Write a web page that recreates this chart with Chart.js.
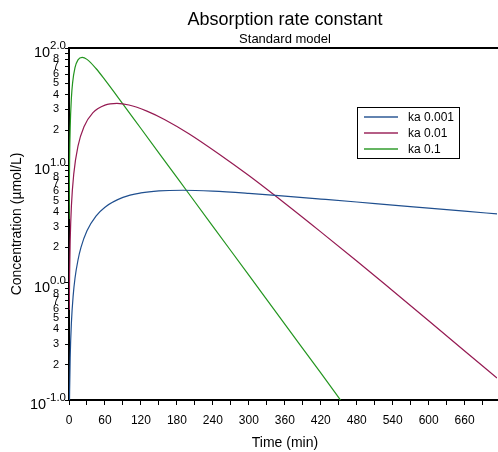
<!DOCTYPE html>
<html>
<head>
<meta charset="utf-8">
<script src="https://cdn.jsdelivr.net/npm/chart.js@4.4.1/dist/chart.umd.min.js"></script>
<style>
    html, body { margin: 0; padding: 0; background: #fff; }
    #wrap { width: 498px; height: 452px; }
</style>
</head>
<body>
<div id="wrap"><canvas id="absorptionChart"></canvas></div>
<script>
// --- Dữ liệu (thời gian: phút, nồng độ: µmol/L) ---
const seriesLabels = ['ka 0.001', 'ka 0.01', 'ka 0.1'];
const seriesColors = ['#1f4f8f', '#951a52', '#23951f'];

const timesKa0001 = [0.8, 1, 2, 4, 7, 10, 15, 20, 30, 45, 60, 90, 120, 150, 190, 240, 300, 360, 420, 480, 540, 600, 660, 714];
const concKa0001  = [0.094, 0.117, 0.232, 0.456, 0.779, 1.09, 1.56, 2.00, 2.77, 3.69, 4.40, 5.33, 5.82, 6.06, 6.13, 6.02, 5.76, 5.46, 5.16, 4.87, 4.58, 4.32, 4.07, 3.85];

const timesKa001 = [0.5, 1, 2, 4, 8, 15, 25, 40, 60, 80, 100, 130, 160, 200, 250, 300, 360, 420, 480, 540, 600, 660, 714];
const concKa001  = [0.585, 1.17, 2.30, 4.49, 8.50, 14.6, 21.3, 28.1, 32.6, 33.7, 32.7, 29.0, 24.5, 18.6, 12.5, 8.18, 4.75, 2.71, 1.53, 0.853, 0.474, 0.262, 0.154];

const timesKa01 = [0.3, 0.5, 1, 2, 4, 6, 10, 15, 22, 30, 45, 60, 90, 120, 180, 240, 300, 360, 420, 460];
const concKa01  = [3.48, 5.73, 11.1, 21.0, 37.6, 50.5, 68.0, 79.2, 83.2, 80.0, 66.9, 53.5, 33.3, 20.6, 7.89, 3.02, 1.16, 0.443, 0.170, 0.089];

// Vạch chia trục
const xTickValues = [0, 30, 60, 90, 120, 150, 180, 210, 240, 270, 300, 330, 360, 390, 420, 450, 480, 510, 540, 570, 600, 630, 660, 690];
const xTickLabels = [0, 60, 120, 180, 240, 300, 360, 420, 480, 540, 600, 660];
const yTickValues = [0.1, 0.2, 0.3, 0.4, 0.5, 0.6, 0.7, 0.8, 0.9,
                     1, 2, 3, 4, 5, 6, 7, 8, 9,
                     10, 20, 30, 40, 50, 60, 70, 80, 90, 100];
const yMajorValues = [0.1, 1, 10, 100];
const yMajorExponents = ['-1.0', '0.0', '1.0', '2.0'];
const yMinorLabels = [2, 3, 4, 5, 6, 7, 8];

const FONT = 'Arial, "Liberation Sans", sans-serif';

function toPoints(times, values) {
    return times.map((t, i) => ({ x: t, y: values[i] }));
}

// --- Plugin vẽ tiêu đề, chú thích, nhãn 10^n ---
const decorPlugin = {
    id: 'decor',
    afterDraw(chart) {
        const ctx = chart.ctx;
        const area = chart.chartArea;
        const yScale = chart.scales.y;
        const cx = (area.left + area.right) / 2;

        ctx.save();
        ctx.fillStyle = '#000';
        ctx.textAlign = 'center';
        ctx.textBaseline = 'alphabetic';

        // Tiêu đề
        ctx.font = '18px ' + FONT;
        ctx.fillText('Absorption rate constant', cx + 2, 25);
        ctx.font = '13px ' + FONT;
        ctx.fillText('Standard model', cx + 2, 43);

        // Đường khung trên
        ctx.strokeStyle = '#000';
        ctx.lineWidth = 2;
        ctx.beginPath();
        ctx.moveTo(area.left, area.top);
        ctx.lineTo(area.right + 1, area.top);
        ctx.stroke();

        // Tiêu đề trục
        ctx.font = '14px ' + FONT;
        ctx.fillText('Time (min)', cx + 2, 447);
        ctx.save();
        ctx.translate(21, (area.top + area.bottom) / 2);
        ctx.rotate(-Math.PI / 2);
        ctx.fillText('Concentration (µmol/L)', 0, 0);
        ctx.restore();

        // Nhãn 10^n
        yMajorValues.forEach((v, i) => {
            const py = yScale.getPixelForValue(v);
            const exp = yMajorExponents[i];
            ctx.font = '11.5px ' + FONT;
            const expW = ctx.measureText(exp).width;
            ctx.textAlign = 'left';
            ctx.fillText(exp, 66 - expW, py + 1);
            ctx.font = '14.5px ' + FONT;
            ctx.textAlign = 'right';
            ctx.fillText('10', 66 - expW, py + 9);
        });

        // Chú thích
        ctx.lineWidth = 1;
        ctx.strokeRect(357.5, 107.5, 102, 51);
        ctx.font = '12px ' + FONT;
        ctx.textAlign = 'left';
        ctx.textBaseline = 'middle';
        const rowY = [117, 133, 149];
        chart.data.datasets.forEach((ds, i) => {
            ctx.strokeStyle = ds.borderColor;
            ctx.globalAlpha = 0.7;
            ctx.lineWidth = 2;
            ctx.beginPath();
            ctx.moveTo(364, rowY[i]);
            ctx.lineTo(398, rowY[i]);
            ctx.stroke();
            ctx.globalAlpha = 1;
            ctx.fillText(ds.label, 408, rowY[i] + 0.5);
        });
        ctx.restore();
    }
};

function createAbsorptionChart() {
    const canvas = document.getElementById('absorptionChart');
    if (!canvas) return;

    const seriesData = [
        toPoints(timesKa0001, concKa0001),
        toPoints(timesKa001, concKa001),
        toPoints(timesKa01, concKa01)
    ];

    const chartData = {
        datasets: seriesLabels.map((label, i) => ({
            label: label,
            data: seriesData[i],
            borderColor: seriesColors[i],
            borderWidth: 1.2,
            pointRadius: 0,
            fill: false,
            cubicInterpolationMode: 'monotone'
        }))
    };

    const chartOptions = {
        responsive: false,
        animation: false,
        devicePixelRatio: 1,
        layout: { padding: { top: 48, left: 0, right: 1, bottom: 0 } },
        scales: {
            x: {
                type: 'linear',
                min: 0,
                max: 714,
                afterBuildTicks: scale => { scale.ticks = xTickValues.map(v => ({ value: v })); },
                afterFit: scale => { scale.height = 52; },
                border: { display: true, color: '#000', width: 2 },
                grid: { drawOnChartArea: false, drawTicks: true, tickLength: 5, color: '#000' },
                ticks: {
                    autoSkip: false,
                    maxRotation: 0,
                    padding: 8,
                    color: '#000',
                    font: { family: FONT, size: 12 },
                    callback: v => xTickLabels.includes(v) ? String(v) : ''
                }
            },
            y: {
                type: 'logarithmic',
                min: 0.1,
                max: 100,
                afterBuildTicks: scale => { scale.ticks = yTickValues.map(v => ({ value: v })); },
                afterFit: scale => { scale.width = 69; },
                border: { display: true, color: '#000', width: 2 },
                grid: { drawOnChartArea: false, drawTicks: true, tickLength: 4, color: '#000' },
                ticks: {
                    autoSkip: false,
                    padding: 6,
                    color: '#000',
                    font: { family: FONT, size: 11 },
                    callback: v => {
                        const lead = Math.round(v / Math.pow(10, Math.floor(Math.log10(v) + 1e-9)));
                        if (yMajorValues.includes(v)) return '';
                        return yMinorLabels.includes(lead) ? String(lead) : '';
                    }
                }
            }
        },
        plugins: {
            legend: { display: false },
            title: { display: false },
            tooltip: { enabled: false }
        }
    };

    new Chart(canvas, {
        type: 'line',
        data: chartData,
        options: chartOptions,
        plugins: [decorPlugin]
    });
}

const cv = document.getElementById('absorptionChart');
cv.width = 498;
cv.height = 452;
createAbsorptionChart();
</script>
</body>
</html>
